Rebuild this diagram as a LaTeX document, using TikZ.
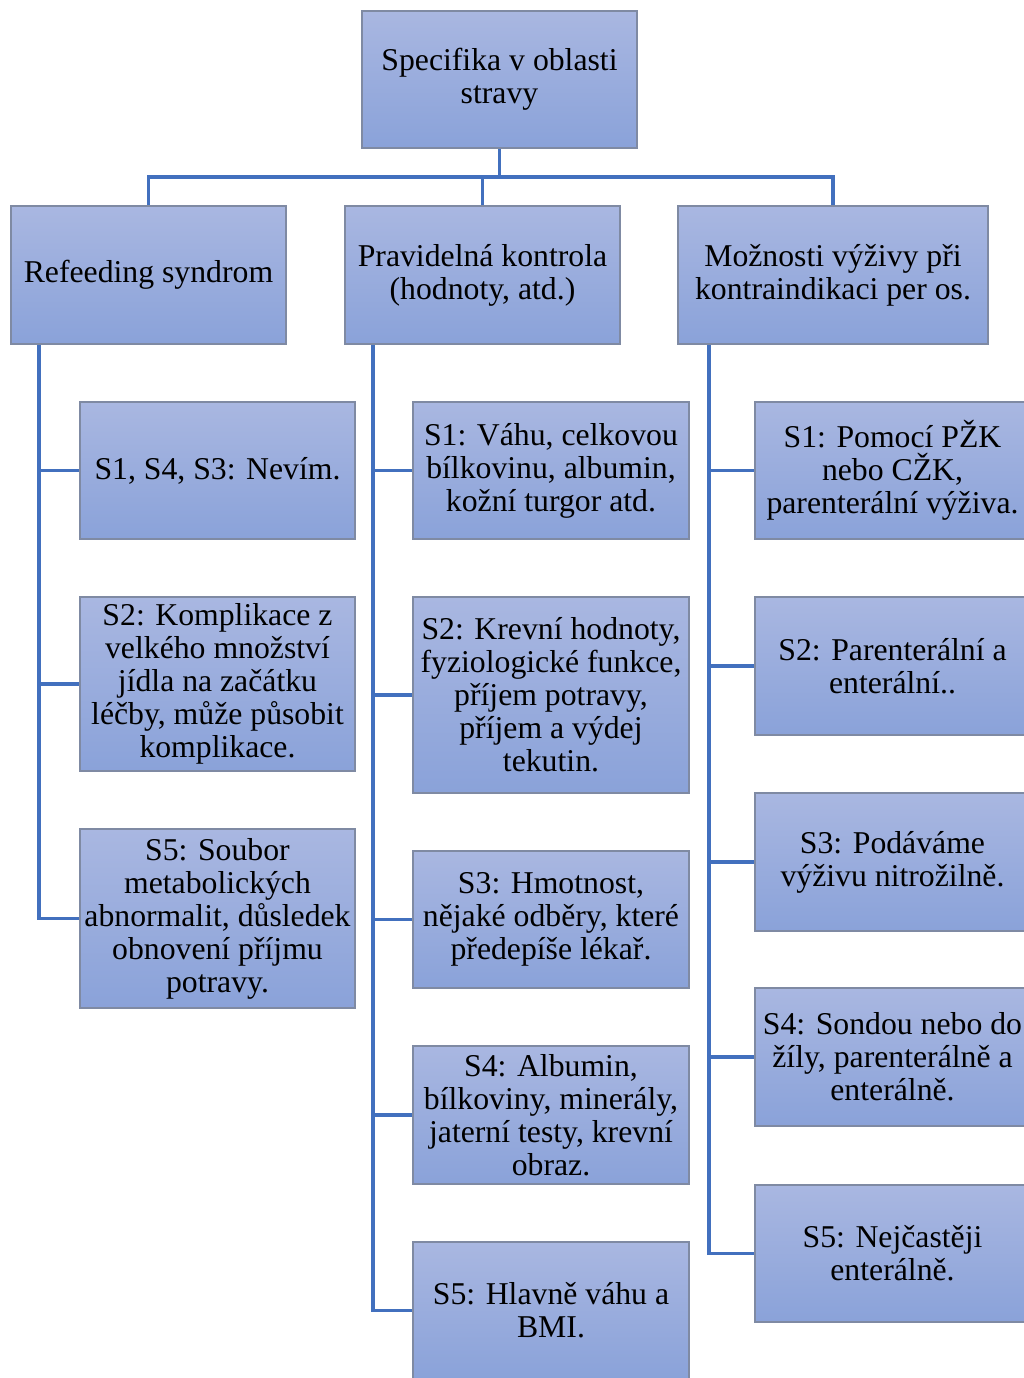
\documentclass[tikz,border=0pt]{standalone}
\usepackage{fontspec}
\setmainfont{Liberation Serif}
\usetikzlibrary{backgrounds}
\definecolor{boxtop}{HTML}{A9B7E1}
\definecolor{boxbot}{HTML}{8AA2D9}
\definecolor{boxline}{HTML}{7F8AA3}
\definecolor{linkblue}{HTML}{4270BE}
\begin{document}
\begin{tikzpicture}[x=0.75pt,y=-0.75pt,
  item/.style 2 args={draw=boxline, line width=0.9pt, top color=boxtop,
    bottom color=boxbot, minimum width=#1*0.75pt, minimum height=#2*0.75pt,
    inner sep=0pt, align=center, font=\fontsize{23.8}{24.75}\selectfont},
  link/.style={draw=linkblue, line width=2.3pt}]
\clip (0,0) rectangle (1024,1378);

% root and first level
\node[item={275}{137}] (root) at (499.5,79.5) {Specifika v oblasti\\stravy};
\node[item={275}{138}] (ref) at (148.5,275) {Refeeding syndrom};
\node[item={275}{138}] (kon) at (482.5,275) {Pravidelná kontrola\\(hodnoty, atd.)};
\node[item={310}{138}] (moz) at (833,275) {Možnosti výživy při\\kontraindikaci per os.};

% Refeeding syndrom
\node[item={275}{137}] (a1) at (217.5,470.5) {S1, S4, S3: Nevím.};
\node[item={275}{174}] (a2) at (217.5,684) {S2: Komplikace z\\velkého množství\\jídla na začátku\\léčby, může působit\\komplikace.};
\node[item={275}{179}] (a3) at (217.5,918.5) {S5: Soubor\\metabolických\\abnormalit, důsledek\\obnovení příjmu\\potravy.};

% Pravidelna kontrola
\node[item={276}{137}] (b1) at (551,470.5) {S1: Váhu, celkovou\\bílkovinu, albumin,\\kožní turgor atd.};
\node[item={276}{196}] (b2) at (551,695) {S2: Krevní hodnoty,\\fyziologické funkce,\\příjem potravy,\\příjem a výdej\\tekutin.};
\node[item={276}{137}] (b3) at (551,919.5) {S3: Hmotnost,\\nějaké odběry, které\\předepíše lékař.};
\node[item={276}{138}] (b4) at (551,1115) {S4: Albumin,\\bílkoviny, minerály,\\jaterní testy, krevní\\obraz.};
\node[item={276}{137}] (b5) at (551,1310.5) {S5: Hlavně váhu a\\BMI.};

% Moznosti vyzivy
\node[item={275}{137}] (c1) at (892.5,470.5) {S1: Pomocí PŽK\\nebo CŽK,\\parenterální výživa.};
\node[item={275}{138}] (c2) at (892.5,666) {S2: Parenterální a\\enterální..};
\node[item={275}{138}] (c3) at (892.5,862) {S3: Podáváme\\výživu nitrožilně.};
\node[item={275}{138}] (c4) at (892.5,1057) {S4: Sondou nebo do\\žíly, parenterálně a\\enterálně.};
\node[item={275}{137}] (c5) at (892.5,1253.5) {S5: Nejčastěji\\enterálně.};

\begin{scope}[on background layer]
  \fill[white] (0,0) rectangle (1024,1378);
  \coordinate (bus) at (499.5,177);
  \draw[link] (root.south) -- (bus);
  \draw[link] (ref.north) -- (ref.north |- bus) -- (moz.north |- bus) -- (moz.north);
  \draw[link] (kon.north) -- (kon.north |- bus);

  \coordinate (ta) at (39,344);
  \draw[link] (ta) |- (a1.west);
  \draw[link] (ta) |- (a2.west);
  \draw[link] (ta) |- (a3.west);

  \coordinate (tb) at (373,344);
  \draw[link] (tb) |- (b1.west);
  \draw[link] (tb) |- (b2.west);
  \draw[link] (tb) |- (b3.west);
  \draw[link] (tb) |- (b4.west);
  \draw[link] (tb) |- (b5.west);

  \coordinate (tc) at (709,344);
  \draw[link] (tc) |- (c1.west);
  \draw[link] (tc) |- (c2.west);
  \draw[link] (tc) |- (c3.west);
  \draw[link] (tc) |- (c4.west);
  \draw[link] (tc) |- (c5.west);
\end{scope}
\end{tikzpicture}
\end{document}
